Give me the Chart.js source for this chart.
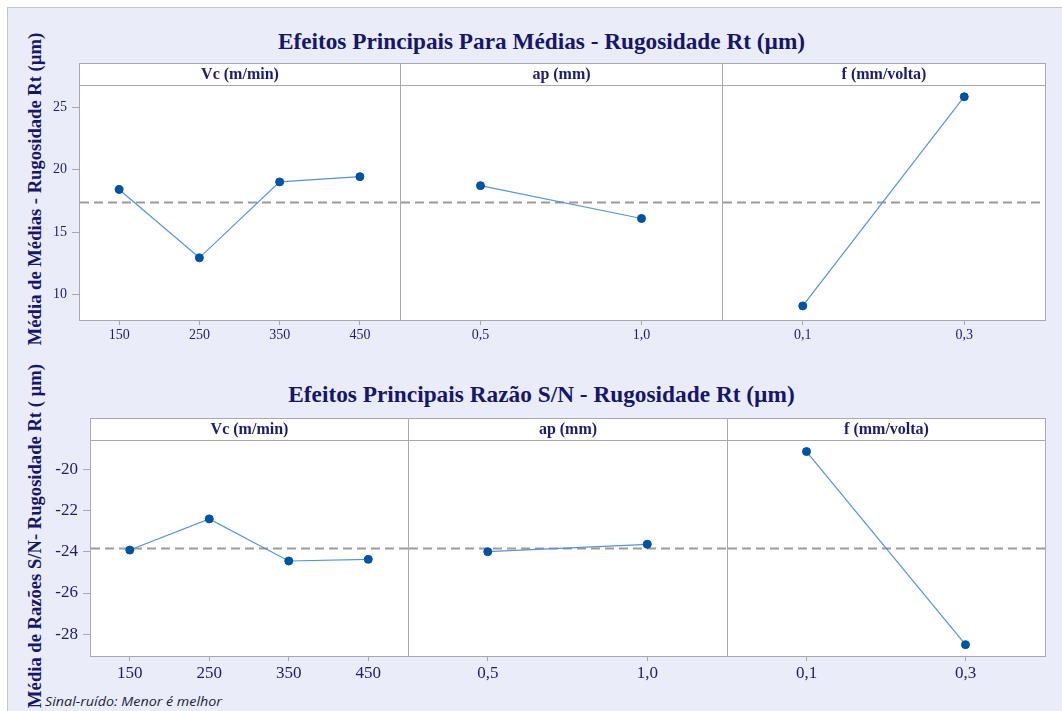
<!DOCTYPE html>
<html lang="pt">
<head>
<meta charset="utf-8">
<title>Efeitos Principais - Rugosidade Rt</title>
<script src="https://cdn.jsdelivr.net/npm/chart.js@4.4.1/dist/chart.umd.min.js"></script>
<style>
  html, body { margin: 0; padding: 0; background: #ffffff; width: 1062px; height: 711px; overflow: hidden; position: relative; }
  #sheet { position: absolute; left: 7px; top: 7px; width: 1055px; height: 704px; background: #eaecf9;
           border-left: 1px solid #c3c4cc; border-top: 1px solid #c3c4cc; box-sizing: border-box; }
  canvas { position: absolute; }
  .txt { position: absolute; left: 0; top: 0; white-space: nowrap; transform-origin: 0 0; line-height: 1; }
  .title { font: bold 23px "Liberation Serif", "Times New Roman", serif; color: #16166a; }
  .ytitle { font: bold 18px "Liberation Serif", "Times New Roman", serif; color: #16166a; }
  .note { font: italic 13px "Open Sans", "DejaVu Sans", sans-serif; color: #1d1d3a; }
</style>
</head>
<body>
<div id="sheet"></div>

<div id="titleRt" class="txt title">Efeitos Principais Para Médias - Rugosidade Rt (µm)</div>
<div id="titleSn" class="txt title">Efeitos Principais Razão S/N - Rugosidade Rt (µm)</div>
<div id="yTitleRt" class="txt ytitle">Média de Médias - Rugosidade Rt (µm)</div>
<div id="yTitleSn" class="txt ytitle">Média de Razões S/N- Rugosidade Rt ( µm)</div>
<div id="note" class="txt note">Sinal-ruído: Menor é melhor</div>

<script>
// ---- factor levels (x categories) ----
const vcLevels = ['150', '250', '350', '450'];
const apLevels = ['0,5', '1,0'];
const fLevels  = ['0,1', '0,3'];
const factorNames = ['Vc (m/min)', 'ap (mm)', 'f (mm/volta)'];

// ---- means of Rt (µm) for each level ----
const rtVc = [18.42, 12.95, 19.03, 19.45];
const rtAp = [18.73, 16.10];
const rtF  = [9.10, 25.85];
const rtGrandMean = 17.42;
const rtTicks = [10, 15, 20, 25];

// ---- S/N ratios (smaller is better) for each level ----
const snVc = [-23.92, -22.41, -24.45, -24.37];
const snAp = [-24.00, -23.64];
const snF  = [-19.15, -28.50];
const snGrandMean = -23.81;
const snTicks = [-28, -26, -24, -22, -20];

const NAVY = '#1c1d6e';
const FRAME = '#a9a9ad';

// White panel with header strip, outer frame and grand-mean reference line
const panelFrame = {
  id: 'panelFrame',
  beforeDraw(chart, args, o) {
    const { ctx, chartArea: a } = chart;
    const top = a.top - o.header;
    ctx.save();
    ctx.fillStyle = '#ffffff';
    ctx.fillRect(a.left, top, a.right - a.left, a.bottom - top);
    ctx.restore();
  },
  beforeDatasetsDraw(chart, args, o) {
    const { ctx, chartArea: a } = chart;
    const top = a.top - o.header;
    ctx.save();
    // frame + header separator
    ctx.strokeStyle = FRAME;
    ctx.lineWidth = 1;
    ctx.strokeRect(a.left + 0.5, top + 0.5, a.right - a.left, a.bottom - top);
    ctx.beginPath();
    ctx.moveTo(a.left, a.top + 0.5);
    ctx.lineTo(a.right, a.top + 0.5);
    ctx.stroke();
    // header text
    ctx.fillStyle = NAVY;
    ctx.font = 'bold ' + o.headerSize + 'px "Liberation Serif", serif';
    ctx.textAlign = 'center';
    ctx.textBaseline = 'middle';
    ctx.fillText(o.name, (a.left + a.right) / 2 + 0.5, top + o.header / 2 + 1);
    // grand mean
    const y = Math.round(chart.scales.y.getPixelForValue(o.mean)) + 0.5;
    ctx.strokeStyle = '#9b9b9b';
    ctx.lineWidth = 2;
    ctx.setLineDash([9, 5]);
    ctx.beginPath();
    ctx.moveTo(a.left + 1, y);
    ctx.lineTo(a.right, y);
    ctx.stroke();
    ctx.restore();
  }
};

const rows = [
  { top: 63, header: 22, plotH: 235, xAxisH: 30, yAxisW: 39, edges: [79, 400, 722, 1045],
    min: 7.97, max: 26.79, ticks: rtTicks, mean: rtGrandMean,
    levels: [vcLevels, apLevels, fLevels], series: [rtVc, rtAp, rtF],
    tickSize: 14, headerSize: 16, xPad: 2 },
  { top: 418, header: 22, plotH: 216, xAxisH: 34, yAxisW: 50, edges: [90, 408, 727, 1045],
    min: -29.05, max: -18.59, ticks: snTicks, mean: snGrandMean,
    levels: [vcLevels, apLevels, fLevels], series: [snVc, snAp, snF],
    tickSize: 17, headerSize: 16, xPad: 2 }
];

function makePanel(row, i) {
  const first = i === 0;
  const left = row.edges[i], right = row.edges[i + 1];
  const yW = first ? row.yAxisW : 0;
  const w = yW + (right - left) + 1;
  const h = row.header + row.plotH + row.xAxisH;
  const cv = document.createElement('canvas');
  cv.width = w; cv.height = h;
  cv.style.left = (left - yW) + 'px';
  cv.style.top = row.top + 'px';
  cv.style.width = w + 'px'; cv.style.height = h + 'px';
  document.body.appendChild(cv);

  const tickFont = { family: '"Liberation Serif", serif', size: row.tickSize };
  new Chart(cv.getContext('2d'), {
    type: 'line',
    data: {
      labels: row.levels[i],
      datasets: [{
        data: row.series[i],
        borderColor: '#5594d6',
        borderWidth: 1.2,
        pointRadius: 4,
        pointBackgroundColor: '#0052a3',
        pointBorderColor: '#0052a3',
        pointBorderWidth: 1,
        tension: 0,
        fill: false
      }]
    },
    options: {
      responsive: false,
      animation: false,
      devicePixelRatio: 1,
      layout: { autoPadding: false, padding: { top: row.header, right: 1, left: 0, bottom: 0 } },
      plugins: {
        legend: { display: false },
        tooltip: { enabled: false },
        panelFrame: { header: row.header, name: factorNames[i], mean: row.mean, headerSize: row.headerSize }
      },
      scales: {
        x: {
          type: 'category',
          offset: true,
          grid: { display: true, drawOnChartArea: false, drawTicks: true, tickLength: 5, color: FRAME, offset: false },
          border: { display: false },
          ticks: { color: NAVY, font: tickFont, padding: row.xPad, maxRotation: 0, autoSkip: false },
          afterFit(s) { s.height = row.xAxisH; }
        },
        y: {
          display: first,
          min: row.min,
          max: row.max,
          afterBuildTicks(s) { s.ticks = row.ticks.map(v => ({ value: v })); },
          afterFit(s) { s.width = yW; },
          grid: { display: true, drawOnChartArea: false, drawTicks: true, tickLength: 7, color: FRAME },
          border: { display: false },
          ticks: { color: NAVY, font: tickFont, padding: 5 }
        }
      }
    },
    plugins: [panelFrame]
  });
}

rows.forEach(row => [0, 1, 2].forEach(i => makePanel(row, i)));

// place a text block by its centre, stretched to a given length
function place(id, cx, cy, len, rot) {
  const el = document.getElementById(id);
  const s = len / el.offsetWidth;
  el.style.transform = 'translate(' + cx + 'px,' + cy + 'px) rotate(' + rot + 'deg) scale(' + s + ',1) translate(-50%,-50%)';
}

function layoutText() {
  place('titleRt', 541.5, 42, 527, 0);
  place('titleSn', 541.5, 395, 506, 0);
  place('yTitleRt', 35, 189, 312, -90);
  place('yTitleSn', 35, 536, 344, -90);
  place('note', 133.5, 701, 177, 0);
}
layoutText();
if (document.fonts && document.fonts.ready) document.fonts.ready.then(layoutText);
</script>
</body>
</html>
